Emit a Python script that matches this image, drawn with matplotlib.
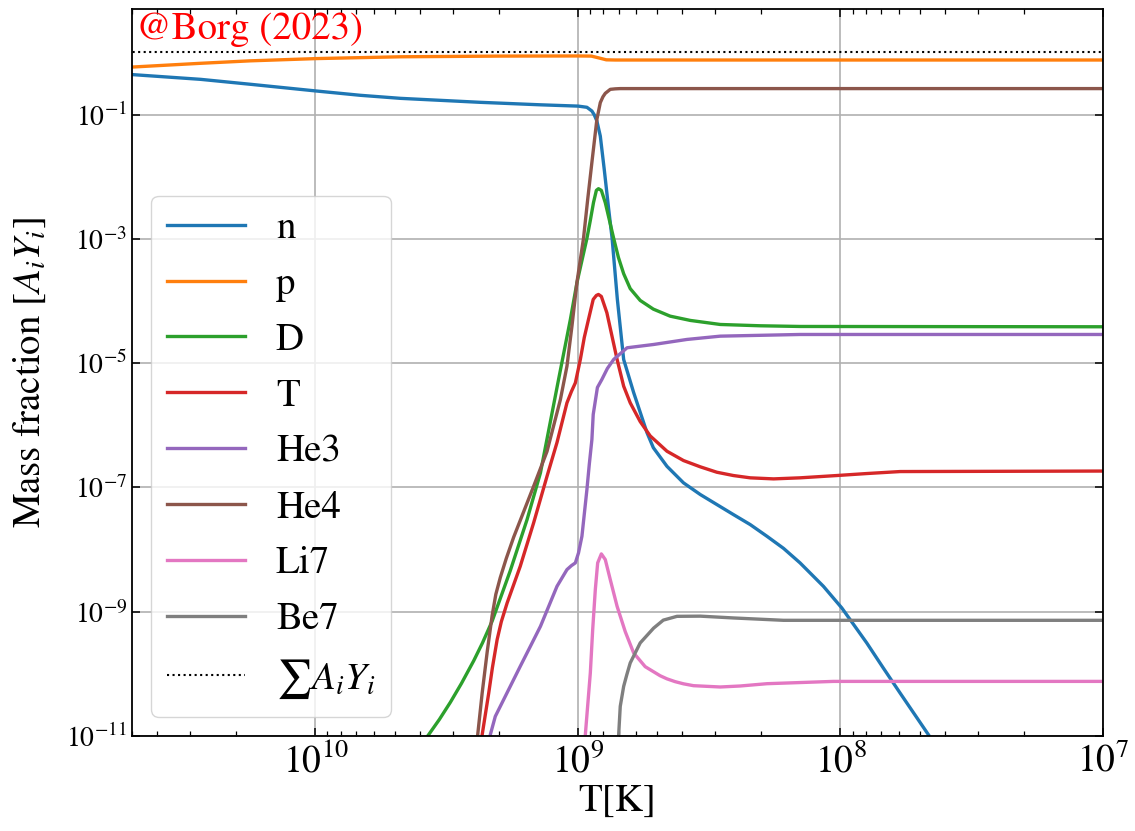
import numpy as np
import matplotlib
matplotlib.use("Agg")
import matplotlib.pyplot as plt
from matplotlib.ticker import FixedLocator, NullLocator

plt.rcParams['font.family'] = 'STIXGeneral'
plt.rcParams['mathtext.fontset'] = 'stix'

# abundances vs temperature, stored as log10(T [K]) and log10(A_i Y_i)
lgT_n = [10.697, 10.438, 10.247, 9.996, 9.829, 9.676, 9.372, 9.143, 8.999, 8.966,
         8.947, 8.938, 8.928, 8.915, 8.900, 8.883, 8.870, 8.850, 8.826, 8.788,
         8.737, 8.713, 8.661, 8.598, 8.534, 8.471, 8.408, 8.344, 8.280, 8.217,
         8.154, 8.116, 8.065, 7.995, 7.900, 7.837, 7.773, 7.665, 7.600]
lgY_n = [-0.356, -0.432, -0.512, -0.620, -0.689, -0.738, -0.802, -0.842, -0.863, -0.882,
         -0.942, -1.003, -1.103, -1.345, -1.881, -2.525, -2.992, -3.974, -4.940, -5.472,
         -6.120, -6.360, -6.660, -6.926, -7.114, -7.275, -7.436, -7.597, -7.786, -7.980,
         -8.214, -8.375, -8.591, -8.939, -9.502, -9.905, -10.308, -10.979, -11.400]

lgT_p = [10.697, 10.438, 10.247, 9.996, 9.676, 9.296, 8.999, 8.949, 8.923, 8.892, 8.858, 7.0]
lgY_p = [-0.234, -0.174, -0.134, -0.098, -0.069, -0.058, -0.056, -0.058, -0.085, -0.118, -0.121, -0.121]

lgT_D = [9.600, 9.569, 9.528, 9.486, 9.444, 9.397, 9.364, 9.327, 9.258, 9.194,
         9.143, 9.124, 9.074, 9.029, 9.004, 8.966, 8.953, 8.941, 8.930, 8.922,
         8.911, 8.896, 8.881, 8.864, 8.846, 8.826, 8.801, 8.763, 8.713, 8.649,
         8.572, 8.458, 8.306, 8.154, 7.0]
lgY_D = [-11.16, -10.979, -10.733, -10.456, -10.154, -9.787, -9.503, -9.151, -8.340, -7.517,
         -6.765, -6.350, -5.262, -4.296, -3.705, -2.992, -2.702, -2.417, -2.219, -2.192,
         -2.219, -2.417, -2.686, -2.992, -3.298, -3.560, -3.800, -3.990, -4.130, -4.243,
         -4.312, -4.377, -4.398, -4.409, -4.414]

lgT_T = [9.372, 9.365, 9.340, 9.326, 9.308, 9.292, 9.270, 9.220, 9.169, 9.118,
         9.080, 9.042, 9.025, 9.010, 8.991, 8.976, 8.960, 8.942, 8.930, 8.922,
         8.911, 8.890, 8.851, 8.826, 8.801, 8.763, 8.725, 8.661, 8.598, 8.534,
         8.471, 8.408, 8.344, 8.255, 8.154, 8.014, 7.900, 7.773, 7.0]
lgY_T = [-11.38, -10.979, -10.308, -9.900, -9.449, -9.159, -8.860, -8.269, -7.570, -6.820,
         -6.277, -5.638, -5.456, -5.316, -4.940, -4.586, -4.296, -3.974, -3.910, -3.894,
         -3.926, -4.188, -4.940, -5.370, -5.638, -5.940, -6.170, -6.417, -6.567, -6.668,
         -6.755, -6.808, -6.845, -6.862, -6.845, -6.808, -6.776, -6.744, -6.736]

lgT_He3 = [9.345, 9.334, 9.315, 9.296, 9.258, 9.220, 9.182, 9.143, 9.080, 9.042,
           9.025, 9.010, 8.998, 8.985, 8.966, 8.957, 8.947, 8.942, 8.926, 8.909,
           8.888, 8.864, 8.813, 8.712, 8.585, 8.458, 8.154, 7.0]
lgY_He3 = [-11.38, -10.979, -10.684, -10.523, -10.201, -9.879, -9.562, -9.235, -8.591, -8.322,
           -8.258, -8.214, -8.053, -7.786, -7.034, -6.631, -6.229, -5.826, -5.391, -5.262,
           -5.085, -4.940, -4.752, -4.699, -4.618, -4.565, -4.538, -4.538]

lgT_He4 = [9.391, 9.382, 9.365, 9.346, 9.327, 9.313, 9.296, 9.273, 9.245, 9.169,
           9.118, 9.067, 9.042, 9.023, 9.004, 8.979, 8.963, 8.947, 8.928, 8.915,
           8.905, 8.896, 8.877, 8.858, 8.839, 7.0]
lgY_He4 = [-11.38, -10.979, -10.308, -9.650, -9.060, -8.720, -8.450, -8.140, -7.800, -6.981,
           -6.420, -5.585, -5.048, -4.404, -3.700, -2.992, -2.364, -1.768, -1.076, -0.807,
           -0.713, -0.657, -0.593, -0.585, -0.581, -0.581]

lgT_Li7 = [8.976, 8.972, 8.953, 8.944, 8.934, 8.925, 8.911, 8.896, 8.877, 8.851,
           8.820, 8.788, 8.744, 8.687, 8.661, 8.630, 8.598, 8.560, 8.458, 8.382,
           8.280, 8.027, 7.0]
lgY_Li7 = [-11.38, -10.979, -9.985, -9.288, -8.644, -8.214, -8.069, -8.161, -8.483, -8.913,
           -9.320, -9.663, -9.884, -10.030, -10.080, -10.125, -10.160, -10.190, -10.211, -10.195,
           -10.158, -10.121, -10.121]

lgT_Be7 = [8.848, 8.845, 8.839, 8.826, 8.814, 8.801, 8.763, 8.712, 8.675, 8.623,
           8.534, 8.408, 8.217, 7.0]
lgY_Be7 = [-11.38, -10.979, -10.523, -10.201, -10.013, -9.824, -9.502, -9.264, -9.135, -9.074,
           -9.071, -9.100, -9.138, -9.138]

lgT_sum = [10.8, 7.0]
sum_AY = [1.0, 1.0]

species = ['n', 'p', 'D', 'T', 'He3', 'He4', 'Li7', 'Be7']
curves = [(lgT_n, lgY_n), (lgT_p, lgY_p), (lgT_D, lgY_D), (lgT_T, lgY_T),
          (lgT_He3, lgY_He3), (lgT_He4, lgY_He4), (lgT_Li7, lgY_Li7), (lgT_Be7, lgY_Be7)]

fig = plt.figure(figsize=(11.35, 8.31), dpi=100)
ax = fig.add_axes([0.1163, 0.1143, 0.8555, 0.8748])

for name, (lt, ly) in zip(species, curves):
    ax.plot(10 ** np.array(lt), 10 ** np.array(ly), lw=2.4, label=name)
ax.plot(10 ** np.array(lgT_sum), sum_AY, 'k:', lw=1.5, label=r'$\sum A_iY_i$')

ax.set_xscale('log')
ax.set_yscale('log')
ax.set_xlim(5e10, 1e7)
ax.set_ylim(1e-11, 5)

ax.yaxis.set_major_locator(FixedLocator([1e-11, 1e-9, 1e-7, 1e-5, 1e-3, 1e-1]))
ax.yaxis.set_minor_locator(NullLocator())

ax.grid(True, which='major', color='#b0b0b0', lw=1.2)
ax.tick_params(which='both', direction='in', top=True, right=True)
ax.tick_params(which='major', length=6, width=1.1)
ax.tick_params(which='minor', length=3.5, width=0.9)
ax.tick_params(axis='x', labelsize=27, pad=5)
ax.tick_params(axis='y', labelsize=20)
for sp in ax.spines.values():
    sp.set_linewidth(1.3)

ax.set_xlabel('T[K]', fontsize=28, labelpad=3)
ax.set_ylabel(r'Mass fraction $[A_iY_i]$', fontsize=28, labelpad=13)

ax.text(0.004, 0.995, '@Borg (2023)', color='red', fontsize=28,
        transform=ax.transAxes, ha='left', va='top')

ax.legend(loc='lower left', fontsize=28, labelspacing=0.53)

fig.savefig('out.png', dpi=100)
